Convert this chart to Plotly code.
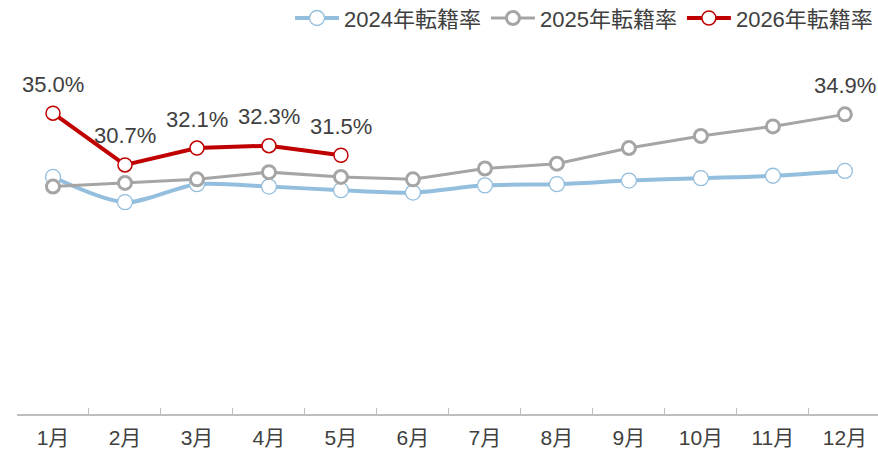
import plotly.graph_objects as go

months = ["1月", "2月", "3月", "4月", "5月", "6月", "7月", "8月", "9月", "10月", "11月", "12月"]
rate_2024 = [29.7, 27.6, 29.1, 28.9, 28.6, 28.4, 29.0, 29.1, 29.4, 29.6, 29.8, 30.2]
rate_2025 = [28.9, 29.2, 29.5, 30.1, 29.7, 29.5, 30.4, 30.8, 32.1, 33.1, 33.9, 34.9]
rate_2026 = [35.0, 30.7, 32.1, 32.3, 31.5]
names = ["2024年転籍率", "2025年転籍率", "2026年転籍率"]
labelled_2025 = [11]  # index of labelled point for 2025

FONT = "Liberation Sans, Arial, Noto Sans CJK JP, sans-serif"
TXT = "#404040"

fig = go.Figure()
fig.add_trace(go.Scatter(
    x=months, y=rate_2024, name=names[0], mode="lines+markers",
    line=dict(color="#93BEDD", width=4, shape="spline", smoothing=0.8),
    marker=dict(symbol="circle", size=15, color="white", line=dict(color="#93BEDD", width=1.3)),
))
fig.add_trace(go.Scatter(
    x=months, y=rate_2025, name=names[1], mode="lines+markers",
    line=dict(color="#A5A5A5", width=3),
    marker=dict(symbol="circle", size=13, color="white", line=dict(color="#A5A5A5", width=3)),
))
fig.add_trace(go.Scatter(
    x=months[:len(rate_2026)], y=rate_2026, name=names[2], mode="lines+markers",
    line=dict(color="#C00000", width=4),
    marker=dict(symbol="circle", size=14, color="white", line=dict(color="#C00000", width=1.5)),
))

annotations = []
for m, v in zip(months, rate_2026):
    annotations.append(dict(x=m, y=v, text=f"{v:.1f}%", showarrow=False, yshift=29,
                            xanchor="center", yanchor="middle",
                            font=dict(family=FONT, size=22, color=TXT)))
for i in labelled_2025:
    annotations.append(dict(x=months[i], y=rate_2025[i], text=f"{rate_2025[i]:.1f}%", showarrow=False,
                            yshift=29, xanchor="center", yanchor="middle",
                            font=dict(family=FONT, size=22, color=TXT)))

fig.update_layout(
    width=878, height=455,
    margin=dict(l=17, r=0, t=53, b=41),
    paper_bgcolor="white", plot_bgcolor="white",
    font=dict(family=FONT, color=TXT),
    showlegend=True,
    legend=dict(orientation="h", x=1, xanchor="right", y=0.96, yref="container", yanchor="middle",
                font=dict(family=FONT, size=22, color=TXT), itemwidth=44,
                bgcolor="rgba(0,0,0,0)", traceorder="normal"),
    annotations=annotations,
    xaxis=dict(type="category", range=[-0.5, 11.46], showgrid=False, zeroline=False,
               showline=True, linecolor="#BFBFBF", linewidth=1.5,
               ticks="inside", tickson="boundaries", ticklen=6, tickcolor="#BFBFBF", tickwidth=1,
               ticklabelstandoff=4,
               tickfont=dict(family=FONT, size=21, color=TXT)),
    yaxis=dict(range=[10, 40], visible=False, showgrid=False, zeroline=False),
)

fig.write_html("out.html", config={"displayModeBar": False},
               post_script="document.body.style.margin='0';")
